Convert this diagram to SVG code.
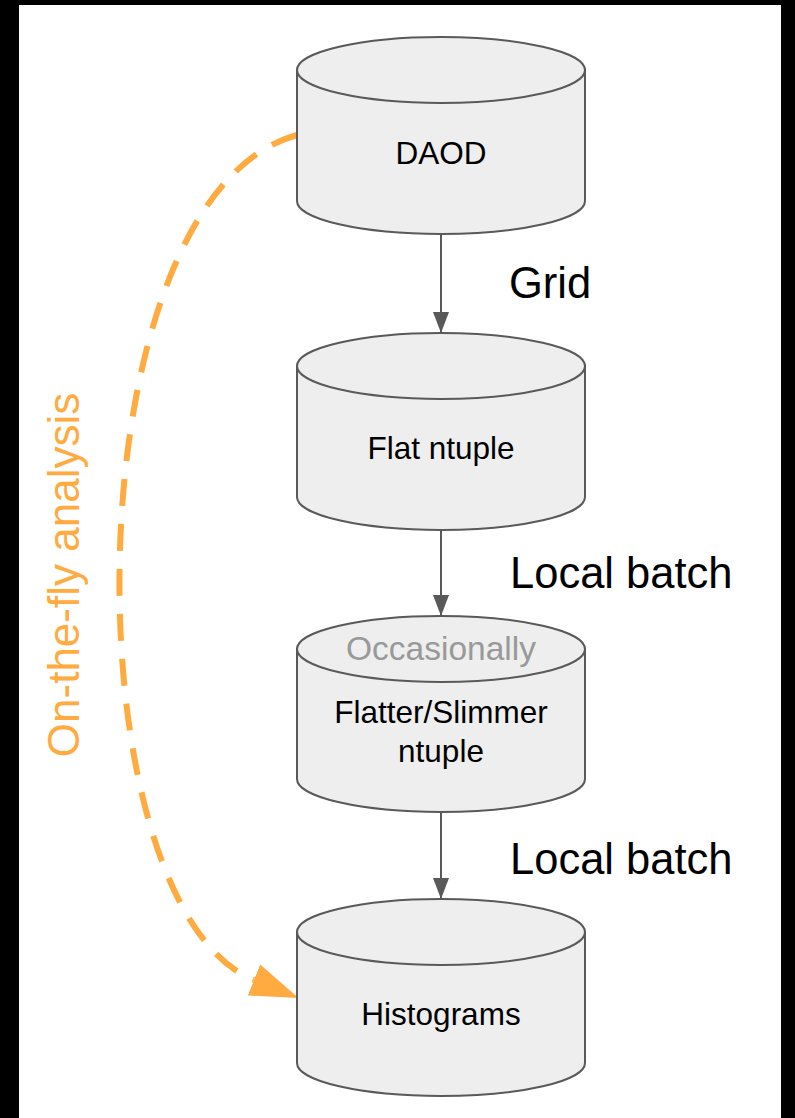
<svg xmlns="http://www.w3.org/2000/svg" width="795" height="1118" viewBox="0 0 795 1118">
  <style>
    .cyl { fill: #eeeeee; stroke: #595959; stroke-width: 2; }
    .lbl { font-family: "Liberation Sans", Arial, sans-serif; fill: #000000; text-anchor: middle; font-size: 31.5px; }
    .edge { font-family: "Liberation Sans", Arial, sans-serif; fill: #000000; font-size: 43.5px; }
    .flow { stroke: #595959; stroke-width: 2; fill: none; }
    .orange { stroke: #ffab40; stroke-width: 6; fill: none; stroke-dasharray: 27 18; }
  </style>
  <defs>
    <marker id="ah" markerUnits="userSpaceOnUse" markerWidth="18" markerHeight="22" refX="8" refY="21" orient="0" viewBox="0 0 16 22">
      <path d="M0,0 L16,0 L8,21 Z" fill="#595959"/>
    </marker>
    <marker id="oh" markerUnits="userSpaceOnUse" markerWidth="48" markerHeight="34" refX="0" refY="16" orient="auto" viewBox="0 0 46 32">
      <path d="M0,0 L46,16 L0,32 Z" fill="#ffab40"/>
    </marker>
  </defs>
  <rect x="0" y="0" width="795" height="1118" fill="#000000"/>
  <rect x="19" y="5" width="762" height="1113" fill="#ffffff"/>

  <g id="connectors">
    <line class="flow" x1="441" y1="234" x2="441" y2="333" marker-end="url(#ah)"/>
    <line class="flow" x1="441" y1="530" x2="441" y2="616" marker-end="url(#ah)"/>
    <line class="flow" x1="441" y1="812" x2="441" y2="899" marker-end="url(#ah)"/>
    <path class="orange" d="M297,135 C68,198 68,905 254,980" marker-end="url(#oh)"/>
    <text class="edge" x="509" y="298">Grid</text>
    <text class="edge" x="510" y="588">Local batch</text>
    <text class="edge" x="510" y="874">Local batch</text>
    <text font-family="Liberation Sans, Arial, sans-serif" font-size="44" fill="#ffab40" text-anchor="middle" transform="translate(79,575) rotate(-90)">On-the-fly analysis</text>
  </g>

  <g id="daod">
    <path class="cyl" d="M297,70 L297,201 A144,33 0 0 0 585,201 L585,70 Z"/>
    <ellipse class="cyl" cx="441" cy="70" rx="144" ry="33"/>
    <text class="lbl" x="441" y="164">DAOD</text>
  </g>

  <g id="flat">
    <path class="cyl" d="M297,366 L297,497 A144,33 0 0 0 585,497 L585,366 Z"/>
    <ellipse class="cyl" cx="441" cy="366" rx="144" ry="33"/>
    <text class="lbl" x="441" y="459">Flat ntuple</text>
  </g>

  <g id="flatter">
    <path class="cyl" d="M297,649 L297,779 A144,33 0 0 0 585,779 L585,649 Z"/>
    <ellipse class="cyl" cx="441" cy="649" rx="144" ry="33"/>
    <text class="lbl" x="441" y="660" style="fill:#999999;font-size:33.5px">Occasionally</text>
    <text class="lbl" x="441" y="723">Flatter/Slimmer</text>
    <text class="lbl" x="441" y="762">ntuple</text>
  </g>

  <g id="histograms">
    <path class="cyl" d="M297,932 L297,1063 A144,33 0 0 0 585,1063 L585,932 Z"/>
    <ellipse class="cyl" cx="441" cy="932" rx="144" ry="33"/>
    <text class="lbl" x="441" y="1025">Histograms</text>
  </g>
</svg>
